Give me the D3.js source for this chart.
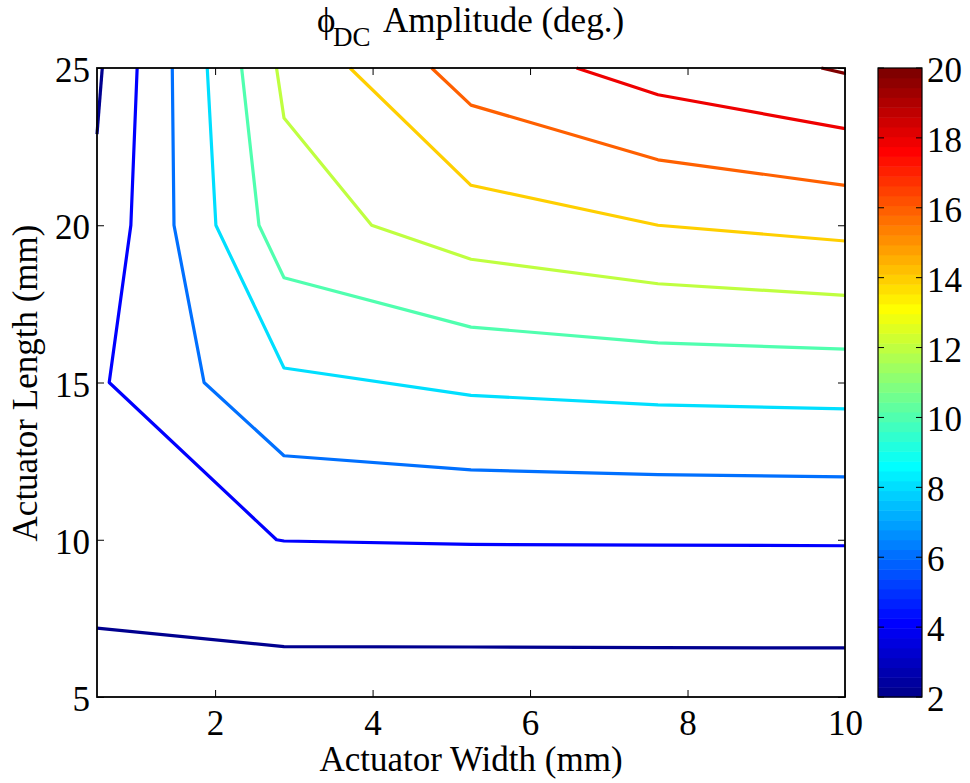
<!DOCTYPE html>
<html>
<head>
<meta charset="utf-8">
<script src="https://cdn.jsdelivr.net/npm/d3@7"></script>
<style>
  body { margin: 0; background: #fff; }
  text { font-family: "Liberation Serif", "Times New Roman", serif; fill: #000; }
</style>
</head>
<body>
<svg id="chart"></svg>
<script>
// contour levels and tick values
const levels = [2, 4, 6, 8, 10, 12, 14, 16, 18, 20];
const xTicks = [2, 4, 6, 8, 10];
const yTicks = [5, 10, 15, 20, 25];
const cbTicks = [2, 4, 6, 8, 10, 12, 14, 16, 18, 20];

// contour polylines, [width, length]
const line2a = [[0.5, 7.19], [2.875, 6.60], [5.25, 6.59], [7.625, 6.57], [10, 6.56]];
const line2b = [[0.567, 25], [0.5, 22.9]];
const line4  = [[1.01, 25], [0.93, 20], [0.655, 15], [2.78, 10], [2.875, 9.96], [5.25, 9.85], [7.625, 9.83], [10, 9.81]];
const line6  = [[1.456, 25], [1.478, 20], [1.86, 15], [2.875, 12.67], [5.25, 12.22], [7.625, 12.07], [10, 12.0]];
const line8  = [[1.90, 25], [2.01, 20], [2.875, 15.46], [5.25, 14.59], [7.625, 14.29], [10, 14.16]];
const line10 = [[2.337, 25], [2.557, 20], [2.875, 18.33], [5.25, 16.76], [7.625, 16.26], [10, 16.06]];
const line12 = [[2.78, 25], [2.875, 23.41], [3.988, 20], [5.25, 18.92], [7.625, 18.14], [10, 17.77]];
const line14 = [[3.713, 25], [5.25, 21.27], [7.625, 20.0], [10, 19.5]];
const line16 = [[4.75, 25], [5.25, 23.82], [7.625, 22.08], [10, 21.27]];
const line18 = [[6.59, 25], [7.625, 24.15], [10, 23.07]];
const line20 = [[9.70, 25], [10, 24.83]];

const contours = [
    {level: 2, pts: line2a}, {level: 2, pts: line2b},
    {level: 4, pts: line4}, {level: 6, pts: line6},
    {level: 8, pts: line8}, {level: 10, pts: line10},
    {level: 12, pts: line12}, {level: 14, pts: line14},
    {level: 16, pts: line16}, {level: 18, pts: line18},
    {level: 20, pts: line20}
];

// MATLAB jet(64)
function jet(m) {
    const n = Math.ceil(m / 4);
    const u = [];
    for (let i = 1; i <= n; i++) u.push(i / n);
    for (let i = 1; i < n; i++) u.push(1);
    for (let i = n; i >= 1; i--) u.push(i / n);
    const g0 = Math.ceil(n / 2) - (m % 4 === 1 ? 1 : 0);
    const J = d3.range(m).map(() => [0, 0, 0]);
    u.forEach((v, k) => {
        const g = g0 + k + 1, r = g + n, b = g - n;
        if (r >= 1 && r <= m) J[r - 1][0] = v;
        if (g >= 1 && g <= m) J[g - 1][1] = v;
        if (b >= 1 && b <= m) J[b - 1][2] = v;
    });
    return J.map(c => d3.rgb(c[0] * 255, c[1] * 255, c[2] * 255).formatHex());
}

const cmap = jet(64);
const cmin = 2, cmax = 20;
const colorOf = v => {
    let i = Math.floor((v - cmin) / (cmax - cmin) * cmap.length);
    return cmap[Math.max(0, Math.min(cmap.length - 1, i))];
};

const W = 970, H = 783;
const svg = d3.select('#chart').attr('width', W).attr('height', H);

const x = d3.scaleLinear().domain([0.5, 10]).range([97, 845]);
const y = d3.scaleLinear().domain([5, 25]).range([697, 68]);

// contour lines
const line = d3.line().x(d => x(d[0])).y(d => y(d[1]));
svg.append('g').selectAll('path')
    .data(contours)
    .join('path')
    .attr('d', d => line(d.pts))
    .attr('fill', 'none')
    .attr('stroke', d => colorOf(d.level))
    .attr('stroke-width', 3.2)
    .attr('stroke-linejoin', 'round');

// axes, ticks pointing inward
const tk = 7;
const gx = svg.append('g').attr('transform', 'translate(0,697)')
    .call(d3.axisBottom(x).tickValues(xTicks).tickSizeInner(-tk).tickSizeOuter(0).tickPadding(13));
const gxt = svg.append('g').attr('transform', 'translate(0,68)')
    .call(d3.axisTop(x).tickValues(xTicks).tickSizeInner(-tk).tickSizeOuter(0).tickFormat(''));
const gy = svg.append('g').attr('transform', 'translate(97,0)')
    .call(d3.axisLeft(y).tickValues(yTicks).tickSizeInner(-tk).tickSizeOuter(0).tickPadding(7));
const gyr = svg.append('g').attr('transform', 'translate(845,0)')
    .call(d3.axisRight(y).tickValues(yTicks).tickSizeInner(-tk).tickSizeOuter(0).tickFormat(''));

[gx, gxt, gy, gyr].forEach(g => {
    g.attr('font-family', null).attr('font-size', null);
    g.select('.domain').remove();
    g.selectAll('line').attr('stroke', '#000').attr('stroke-width', 1);
    g.selectAll('text').style('font-family', '"Liberation Serif", serif').style('font-size', '35px').attr('fill', '#000');
});
gy.selectAll('text').attr('dy', '0.39em');

svg.append('rect')
    .attr('x', 97).attr('y', 68)
    .attr('width', 845 - 97).attr('height', 697 - 68)
    .attr('fill', 'none').attr('stroke', '#000').attr('stroke-width', 1.8);

// axis labels
svg.append('text')
    .attr('x', 471).attr('y', 771)
    .attr('text-anchor', 'middle')
    .style('font-size', '35px')
    .text('Actuator Width (mm)');

svg.append('text')
    .attr('transform', 'translate(37,383) rotate(-90)')
    .attr('text-anchor', 'middle')
    .style('font-size', '35px')
    .text('Actuator Length (mm)');

// title
const title = svg.append('text').attr('y', 31.5).style('font-size', '35px');
title.append('tspan').attr('x', 317).text('\u03D5');
title.append('tspan').attr('x', 333).attr('y', 46).style('font-size', '27px').text('DC');
title.append('tspan').attr('x', 383).attr('y', 31.5).text('Amplitude (deg.)');

// colorbar
const cbX = 878, cbW = 44;
const cy = d3.scaleLinear().domain([cmin, cmax]).range([697, 68]);
const step = (cmax - cmin) / cmap.length;
svg.append('g').selectAll('rect')
    .data(cmap)
    .join('rect')
    .attr('x', cbX)
    .attr('y', (d, i) => cy(cmin + (i + 1) * step))
    .attr('width', cbW)
    .attr('height', (d, i) => cy(cmin + i * step) - cy(cmin + (i + 1) * step) + 0.5)
    .attr('fill', d => d);

const cbg = svg.append('g');
cbg.selectAll('line.l')
    .data(cbTicks)
    .join('line')
    .attr('x1', cbX).attr('x2', cbX + 6)
    .attr('y1', d => cy(d)).attr('y2', d => cy(d))
    .attr('stroke', '#000');
cbg.selectAll('line.r')
    .data(cbTicks)
    .join('line')
    .attr('x1', cbX + cbW - 6).attr('x2', cbX + cbW)
    .attr('y1', d => cy(d)).attr('y2', d => cy(d))
    .attr('stroke', '#000');
svg.append('rect')
    .attr('x', cbX).attr('y', 68)
    .attr('width', cbW).attr('height', 697 - 68)
    .attr('fill', 'none').attr('stroke', '#000').attr('stroke-width', 1.2);
svg.append('g').selectAll('text')
    .data(cbTicks)
    .join('text')
    .attr('x', 927)
    .attr('y', d => cy(d) + 14)
    .style('font-size', '35px')
    .text(d => d);
</script>
</body>
</html>
